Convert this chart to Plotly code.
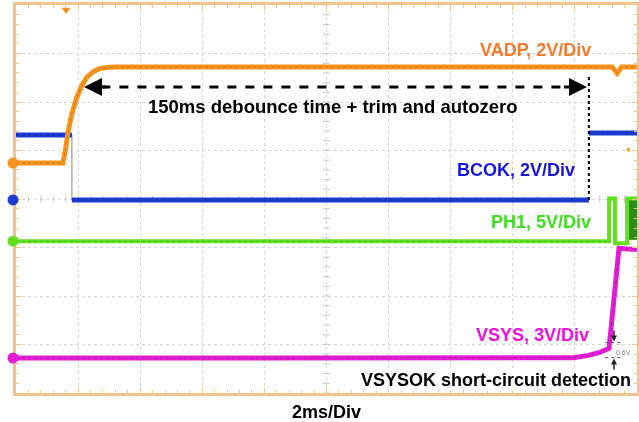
import plotly.graph_objects as go

# ---------------- data (time in ms, values in volts) ----------------
vadp_t = [0, 1.51, 1.60, 1.67, 1.80, 1.96, 2.12, 2.29, 2.50, 2.71, 3.00, 3.25, 19.20, 19.36, 19.50, 20]
vadp_v = [0, 0, 0.6, 1.24, 2.05, 2.72, 3.20, 3.55, 3.78, 3.90, 3.95, 3.96, 3.96, 3.70, 3.96, 3.96]

bcok_t = [0, 1.80, None, 1.80, 18.45, None, 18.45, 20]
bcok_v = [2.68, 2.68, None, 0, 0, None, 2.76, 2.76]
bcok_edge_t = [1.80, 1.80]
bcok_edge_v = [0, 2.68]

ph1_t = [0, 19.10, 19.10, 19.29, 19.29, 19.68, 19.68, 20]
ph1_v = [0, 0, 4.4, 4.4, -0.2, -0.2, 4.4, 4.4]
ph1_fill_t = [19.74, 20, 20, 19.74, 19.74]
ph1_fill_v = [0.2, 0.2, 4.2, 4.2, 0.2]

vsys_t = [0, 17.94, 18.40, 18.80, 19.10, 19.26, 19.42, 19.70, 20]
vsys_v = [0, 0.02, 0.15, 0.35, 0.60, 3.4, 6.8, 6.75, 6.72]

# channel settings: ground offset (divisions from bottom) and V/div
ch_offset = {"VADP": 4.74, "BCOK": 3.98, "PH1": 3.13, "VSYS": 0.72}
ch_scale = {"VADP": 2, "BCOK": 2, "PH1": 5, "VSYS": 3}

col = {"VADP": "#F7941D", "BCOK": "#1E3CD2", "PH1": "#62E01E", "VSYS": "#E21ED4"}
dark = {"VADP": "#B85A05", "BCOK": "#0A1A90", "PH1": "#2E9A10", "VSYS": "#A0108F"}
label_col = {"VADP": "#F47A2E", "BCOK": "#1414E6", "PH1": "#3EE01E", "VSYS": "#F010E0"}


def to_div(name, vals):
    return [None if v is None else ch_offset[name] + v / ch_scale[name] for v in vals]


fig = go.Figure()

# center crosshair ticks
cx = [i * 0.4 for i in range(51)]
fig.add_trace(go.Scatter(x=cx, y=[4] * len(cx), mode="markers",
                         marker=dict(symbol="line-ns-open", size=5, color="#C8C8C8", line=dict(width=1)),
                         hoverinfo="skip", showlegend=False))
cy = [i * 0.2 for i in range(41)]
fig.add_trace(go.Scatter(x=[10] * len(cy), y=cy, mode="markers",
                         marker=dict(symbol="line-ew-open", size=5, color="#C8C8C8", line=dict(width=1)),
                         hoverinfo="skip", showlegend=False))


def add_line(name, t, v, width=5):
    y = to_div(name, v)
    fig.add_trace(go.Scatter(x=t, y=y, mode="lines", line=dict(color=col[name], width=width),
                             connectgaps=False, hoverinfo="skip", showlegend=False))
    fig.add_trace(go.Scatter(x=t, y=y, mode="lines", line=dict(color=dark[name], width=1.0, dash="dot"),
                             connectgaps=False, hoverinfo="skip", showlegend=False, opacity=0.5))


# BCOK falling edge (thin gray)
fig.add_trace(go.Scatter(x=bcok_edge_t, y=to_div("BCOK", bcok_edge_v), mode="lines",
                         line=dict(color="#9A9A9A", width=1.2), hoverinfo="skip", showlegend=False))

add_line("BCOK", bcok_t, bcok_v)
add_line("VSYS", vsys_t, vsys_v)
fig.add_trace(go.Scatter(x=ph1_fill_t, y=to_div("PH1", ph1_fill_v), mode="lines", fill="toself",
                         fillcolor="#2E8A1A", line=dict(color="#2E8A1A", width=1),
                         hoverinfo="skip", showlegend=False))
fig.add_trace(go.Scatter(x=ph1_t, y=to_div("PH1", ph1_v), mode="lines",
                         line=dict(color=col["PH1"], width=4), hoverinfo="skip", showlegend=False))
fig.add_trace(go.Scatter(x=ph1_t[:2], y=to_div("PH1", ph1_v[:2]), mode="lines",
                         line=dict(color=dark["PH1"], width=1.0, dash="dot"), opacity=0.5,
                         hoverinfo="skip", showlegend=False))
add_line("VADP", vadp_t, vadp_v)

# channel ground markers at left edge (circles just outside the frame)
names = ["VADP", "BCOK", "PH1", "VSYS"]
for n in names:
    fig.add_shape(type="circle", xref="paper", yref="y", xsizemode="pixel", ysizemode="pixel",
                  xanchor=-3 / 621, yanchor=ch_offset[n], x0=-5.5, x1=5.5, y0=-5.5, y1=5.5,
                  fillcolor=col[n], line=dict(width=0), layer="above")

# trigger markers
fig.add_trace(go.Scatter(x=[1.61], y=[7.9], mode="markers",
                         marker=dict(symbol="triangle-down", size=8, color="#F7941D"),
                         cliponaxis=False, hoverinfo="skip", showlegend=False))
fig.add_trace(go.Scatter(x=[19.72], y=[5.02], mode="markers",
                         marker=dict(symbol="triangle-left", size=5, color="#F7941D"),
                         cliponaxis=False, hoverinfo="skip", showlegend=False))

# dashed double arrow and dotted marker line
arrow_y = 6.31
fig.add_shape(type="line", x0=2.75, x1=17.85, y0=arrow_y, y1=arrow_y,
              line=dict(color="black", width=3, dash="dash"))
fig.add_shape(type="line", x0=18.45, x1=18.45, y0=3.98, y1=6.56,
              line=dict(color="black", width=2, dash="dot"))
for tip, tail in [(2.19, 2.95), (18.39, 17.6)]:
    fig.add_annotation(x=tip, y=arrow_y, ax=tail, ay=arrow_y, axref="x", ayref="y",
                       xref="x", yref="y", text="", showarrow=True, arrowhead=2,
                       arrowsize=1.2, arrowwidth=3, arrowcolor="black")

# cursor arrows near VSYS
for tip, tail in [(1.06, 1.32), (0.71, 0.42)]:
    fig.add_annotation(x=19.26, y=tip, ax=19.26, ay=tail, axref="x", ayref="y",
                       xref="x", yref="y", text="", showarrow=True, arrowhead=2,
                       arrowsize=0.8, arrowwidth=1.5, arrowcolor="#222222")
fig.add_shape(type="line", x0=18.98, x1=19.55, y0=1.04, y1=1.04, line=dict(color="#555", width=1, dash="dot"))
fig.add_shape(type="line", x0=18.98, x1=19.55, y0=0.73, y1=0.73, line=dict(color="#555", width=1, dash="dot"))
fig.add_annotation(x=19.55, y=0.84, text="0.6V", showarrow=False, xanchor="center",
                   font=dict(family="Liberation Sans", size=7, color="#777777"))

F = "Liberation Sans"
def lab(x, y, text, color, xanchor="right", size=18, bg=None, xref="x", yref="y"):
    fig.add_annotation(x=x, y=y, xref=xref, yref=yref, text="<b>%s</b>" % text, showarrow=False,
                       xanchor=xanchor, yanchor="middle", font=dict(family=F, size=size, color=color),
                       bgcolor=bg, borderpad=0)

lab(18.55, 7.07, "VADP, 2V/Div", label_col["VADP"])
lab(10.21, 5.90, "150ms debounce time + trim and autozero", "black", xanchor="center", size=18.5)
lab(18.04, 4.60, "BCOK, 2V/Div", label_col["BCOK"])
lab(18.55, 3.53, "PH1, 5V/Div", label_col["PH1"])
lab(18.49, 1.20, "VSYS, 3V/Div", label_col["VSYS"])
lab(19.84, 0.27, "VSYSOK short-circuit detection", "black", bg="white")
lab(0.5, -19 / 388, "2ms/Div", "black", xanchor="center", xref="paper", yref="paper")

frame = "#F0C48A"
axis_common = dict(showticklabels=False, showline=True, linecolor=frame, linewidth=2.5,
                   mirror="allticks", ticks="inside", ticklen=5, tickcolor=frame, tickwidth=1,
                   showgrid=True, gridcolor="#D4D4D4", griddash="dot", gridwidth=1,
                   zeroline=False, fixedrange=True, automargin=False)
fig.update_layout(
    width=639, height=422,
    margin=dict(l=16, r=2, t=5, b=29, autoexpand=False),
    paper_bgcolor="white", plot_bgcolor="white",
    xaxis=dict(range=[0, 20], dtick=2, minor=dict(dtick=0.4, ticks="inside", ticklen=3, tickcolor=frame),
               **axis_common),
    yaxis=dict(range=[0, 8], dtick=1, minor=dict(dtick=0.2, ticks="inside", ticklen=3, tickcolor=frame),
               **axis_common),
    showlegend=False,
)

fig.write_html("out.html", config={"displayModeBar": False},
               post_script="document.body.style.margin='0';document.body.style.overflow='hidden';")
